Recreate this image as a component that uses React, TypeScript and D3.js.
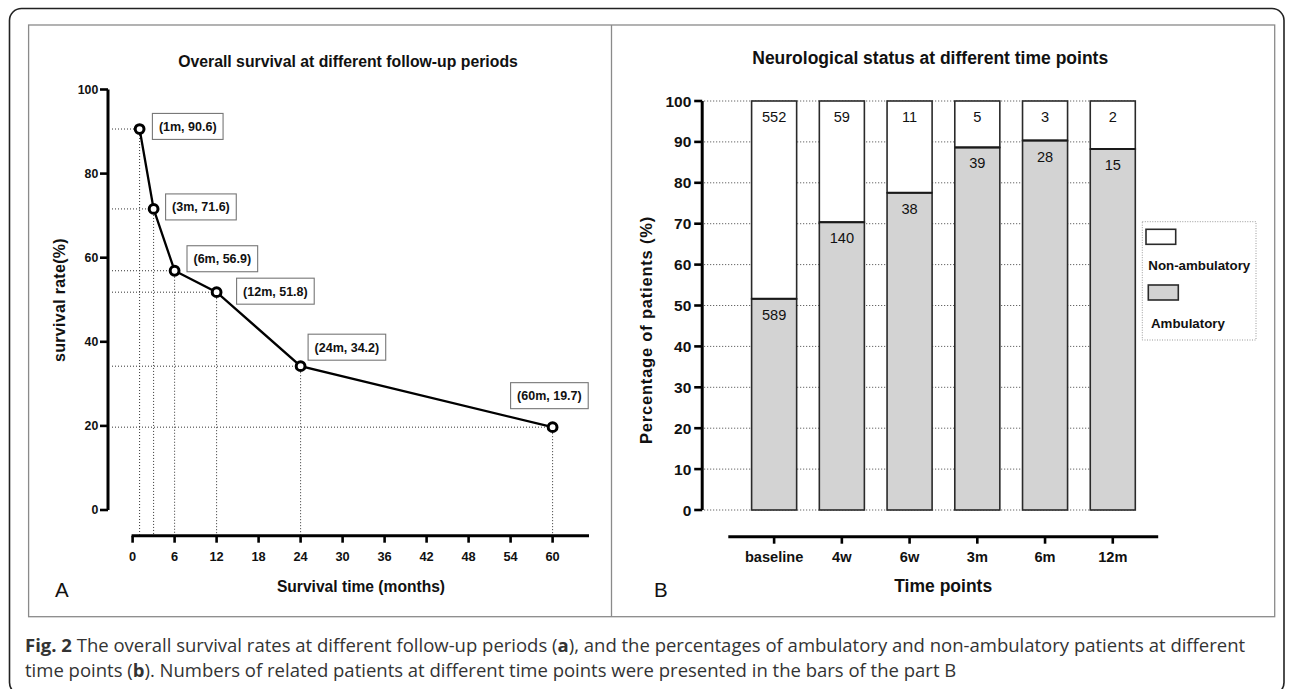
import React from "react";
import * as d3 from "d3";

// ---------- data: panel A ----------
const survivalMonths = [1, 3, 6, 12, 24, 60];
const survivalRates = [90.6, 71.6, 56.9, 51.8, 34.2, 19.7];
const survivalXTicks = [0, 6, 12, 18, 24, 30, 36, 42, 48, 54, 60];
const survivalYTicks = [0, 20, 40, 60, 80, 100];

// ---------- data: panel B ----------
const timePoints = ["baseline", "4w", "6w", "3m", "6m", "12m"];
const ambulatoryCounts = [589, 140, 38, 39, 28, 15];
const nonAmbulatoryCounts = [552, 59, 11, 5, 3, 2];
const percentTicks = [0, 10, 20, 30, 40, 50, 60, 70, 80, 90, 100];

// ---------- layout (annotation box offsets, px relative to point) ----------
const labelOffsets: [number, number][] = [
  [12.8, -2.6],
  [12, -2],
  [12.4, -12],
  [20, -1],
  [7.5, -19],
  [-42, -31.5],
];

const FONT = "'Liberation Sans', Arial, Helvetica, sans-serif";
const CAP_FONT = "'Open Sans', 'Noto Sans', sans-serif";

let measureCtx: CanvasRenderingContext2D | null = null;
function measure(text: string, font: string): number {
  if (!measureCtx) {
    const c = document.createElement("canvas");
    measureCtx = c.getContext("2d");
  }
  if (!measureCtx) return text.length * 7;
  measureCtx.font = font;
  return measureCtx.measureText(text).width;
}

function PanelA() {
  const x = d3.scaleLinear().domain([0, 60]).range([132.6, 552.6]);
  const y = d3.scaleLinear().domain([0, 100]).range([510, 89.5]);
  const axisX = 108;
  const axisY = 535.7;
  const pts = survivalMonths.map((m, i) => [m, survivalRates[i]] as [number, number]);
  const line = d3
    .line<[number, number]>()
    .x((d) => x(d[0]))
    .y((d) => y(d[1]));

  return (
    <g>
      <text x={348} y={66.5} textAnchor="middle" fontFamily={FONT} fontWeight="bold" fontSize={15.8} fill="#111">
        Overall survival at different follow-up periods
      </text>
      {/* dotted guides */}
      {pts.map(([m, v], i) => (
        <g key={"g" + i} stroke="#333" strokeWidth={1} strokeDasharray="1 2" fill="none">
          <line x1={axisX + 4} x2={x(m)} y1={y(v)} y2={y(v)} />
          <line x1={x(m)} x2={x(m)} y1={y(v)} y2={axisY - 1} />
        </g>
      ))}
      {/* y axis */}
      <line x1={axisX} x2={axisX} y1={y(100)} y2={y(0)} stroke="#000" strokeWidth={3} />
      {survivalYTicks.map((t) => (
        <g key={"yt" + t}>
          <line x1={axisX - 8} x2={axisX} y1={y(t)} y2={y(t)} stroke="#000" strokeWidth={2.6} />
          <text x={98.3} y={y(t) + 4.4} textAnchor="end" fontFamily={FONT} fontWeight="bold" fontSize={12.3} fill="#111">
            {t}
          </text>
        </g>
      ))}
      {/* x axis */}
      <line x1={x(0) - 1} x2={x(65.2)} y1={axisY} y2={axisY} stroke="#000" strokeWidth={3} />
      {survivalXTicks.map((t) => (
        <g key={"xt" + t}>
          <line x1={x(t)} x2={x(t)} y1={axisY} y2={axisY + 7} stroke="#000" strokeWidth={2.6} />
          <text x={x(t)} y={560.7} textAnchor="middle" fontFamily={FONT} fontWeight="bold" fontSize={12.8} fill="#111">
            {t}
          </text>
        </g>
      ))}
      {/* line + markers */}
      <path d={line(pts) || ""} fill="none" stroke="#000" strokeWidth={2.3} />
      {pts.map(([m, v], i) => (
        <circle key={"c" + i} cx={x(m)} cy={y(v)} r={4.4} fill="#fff" stroke="#000" strokeWidth={3} />
      ))}
      {/* annotation boxes */}
      {pts.map(([m, v], i) => {
        const label = `(${m}m, ${v.toFixed(1)})`;
        const font = `bold 12.5px ${FONT}`;
        const tw = measure(label, font);
        const bw = tw + 13;
        const bh = 26;
        const bx = x(m) + labelOffsets[i][0];
        const cy = y(v) + labelOffsets[i][1];
        return (
          <g key={"lb" + i}>
            <rect x={bx} y={cy - bh / 2} width={bw} height={bh} fill="#fff" stroke="#777" strokeWidth={1.1} />
            <text x={bx + bw / 2} y={cy + 4.5} textAnchor="middle" fontFamily={FONT} fontWeight="bold" fontSize={12.5} fill="#111">
              {label}
            </text>
          </g>
        );
      })}
      {/* titles */}
      <text
        transform={`translate(65,300) rotate(-90)`}
        textAnchor="middle"
        fontFamily={FONT}
        fontWeight="bold"
        fontSize={16}
        letterSpacing={0.3}
        fill="#111"
      >
        survival rate(%)
      </text>
      <text x={361} y={592} textAnchor="middle" fontFamily={FONT} fontWeight="bold" fontSize={15.6} fill="#111">
        Survival time (months)
      </text>
      <text x={55} y={597.3} fontFamily={FONT} fontSize={20.5} fill="#111">
        A
      </text>
    </g>
  );
}

function PanelB() {
  const xb = d3.scaleBand<string>().domain(timePoints).range([751.6, 1135.3]).paddingInner(0.335).paddingOuter(0);
  const y = d3.scaleLinear().domain([0, 100]).range([510, 101]);
  const axisX = 702.2;
  const axisY = 536.7;
  const pctAmb = timePoints.map((_, i) => (100 * ambulatoryCounts[i]) / (ambulatoryCounts[i] + nonAmbulatoryCounts[i]));

  return (
    <g>
      <text x={930.2} y={64} textAnchor="middle" fontFamily={FONT} fontWeight="bold" fontSize={17.5} fill="#111">
        Neurological status at different time points
      </text>
      {/* grid */}
      {percentTicks.map((t) => (
        <line
          key={"gr" + t}
          x1={axisX + 2}
          x2={1135.3}
          y1={y(t)}
          y2={y(t)}
          stroke="#444"
          strokeWidth={1}
          strokeDasharray="1 2"
        />
      ))}
      {/* bars */}
      {timePoints.map((tp, i) => {
        const bx = xb(tp) as number;
        const bw = xb.bandwidth();
        const ya = y(pctAmb[i]);
        return (
          <g key={"b" + tp}>
            <rect x={bx} y={y(100)} width={bw} height={ya - y(100)} fill="#fff" stroke="#2a2a2a" strokeWidth={1.6} />
            <rect x={bx} y={ya} width={bw} height={y(0) - ya} fill="#d3d3d3" stroke="#2a2a2a" strokeWidth={1.6} />
            <line x1={bx} x2={bx + bw} y1={ya} y2={ya} stroke="#1a1a1a" strokeWidth={2} />
            <text x={bx + bw / 2} y={y(100) + 20.5} textAnchor="middle" fontFamily={FONT} fontSize={14.6} fill="#111">
              {nonAmbulatoryCounts[i]}
            </text>
            <text x={bx + bw / 2} y={ya + 21} textAnchor="middle" fontFamily={FONT} fontSize={14.6} fill="#111">
              {ambulatoryCounts[i]}
            </text>
          </g>
        );
      })}
      {/* y axis */}
      <line x1={axisX} x2={axisX} y1={y(100)} y2={y(0)} stroke="#000" strokeWidth={3} />
      {percentTicks.map((t) => (
        <g key={"yt" + t}>
          <line x1={axisX - 8} x2={axisX} y1={y(t)} y2={y(t)} stroke="#000" strokeWidth={2.6} />
          <text x={691.3} y={y(t) + 5.5} textAnchor="end" fontFamily={FONT} fontWeight="bold" fontSize={15.5} fill="#111">
            {t}
          </text>
        </g>
      ))}
      {/* x axis */}
      <line x1={728.3} x2={1158.2} y1={axisY} y2={axisY} stroke="#000" strokeWidth={3} />
      {timePoints.map((tp) => {
        const cx = (xb(tp) as number) + xb.bandwidth() / 2;
        return (
          <g key={"xt" + tp}>
            <line x1={cx} x2={cx} y1={axisY} y2={axisY + 7} stroke="#000" strokeWidth={2.6} />
            <text x={cx} y={561.7} textAnchor="middle" fontFamily={FONT} fontWeight="bold" fontSize={14.6} fill="#111">
              {tp}
            </text>
          </g>
        );
      })}
      {/* legend */}
      <rect x={1142.3} y={221.7} width={113.7} height={118.3} fill="#fff" stroke="#999" strokeWidth={1} strokeDasharray="1 1.5" />
      <rect x={1146} y={229.3} width={29.7} height={15} fill="#fff" stroke="#2a2a2a" strokeWidth={1.6} />
      <text x={1148.3} y={270} fontFamily={FONT} fontWeight="bold" fontSize={13.3} fill="#111">
        Non-ambulatory
      </text>
      <rect x={1148.3} y={285} width={30} height={15} fill="#d3d3d3" stroke="#2a2a2a" strokeWidth={1.6} />
      <text x={1151} y={327.7} fontFamily={FONT} fontWeight="bold" fontSize={13.3} fill="#111">
        Ambulatory
      </text>
      {/* titles */}
      <text
        transform={`translate(651.5,330) rotate(-90)`}
        textAnchor="middle"
        fontFamily={FONT}
        fontWeight="bold"
        fontSize={16.5}
        letterSpacing={0.8}
        fill="#111"
      >
        Percentage of patients (%)
      </text>
      <text x={943.2} y={592} textAnchor="middle" fontFamily={FONT} fontWeight="bold" fontSize={17.5} fill="#111">
        Time points
      </text>
      <text x={654} y={597.3} fontFamily={FONT} fontSize={20.5} fill="#111">
        B
      </text>
    </g>
  );
}

export default function App() {
  return (
    <svg
      width={1290}
      height={689}
      style={{ position: "absolute", left: 0, top: 0, background: "#fff" }}
      xmlns="http://www.w3.org/2000/svg"
    >
      <rect x={0} y={0} width={1290} height={689} fill="#fff" />
      {/* outer rounded frame */}
      <rect x={9.5} y={8.5} width={1274.5} height={686} rx={12} ry={12} fill="none" stroke="#222" strokeWidth={1.6} />
      {/* panel frame */}
      <rect x={28.6} y={25} width={1246.1} height={591.7} fill="#fff" stroke="#8a8a8a" strokeWidth={1.3} />
      <line x1={611.5} x2={611.5} y1={25} y2={616.7} stroke="#8a8a8a" strokeWidth={1.3} />
      <PanelA />
      <PanelB />
      {/* caption */}
      <text x={25} y={651.5} fontFamily={CAP_FONT} fontSize={18.5} fill="#333">
        <tspan fontWeight="bold">Fig. 2</tspan>
        <tspan> The overall survival rates at different follow-up periods (</tspan>
        <tspan fontWeight="bold">a</tspan>
        <tspan>), and the percentages of ambulatory and non-ambulatory patients at different</tspan>
      </text>
      <text x={25} y={677} fontFamily={CAP_FONT} fontSize={18.5} fill="#333">
        <tspan>time points (</tspan>
        <tspan fontWeight="bold">b</tspan>
        <tspan>). Numbers of related patients at different time points were presented in the bars of the part B</tspan>
      </text>
    </svg>
  );
}
